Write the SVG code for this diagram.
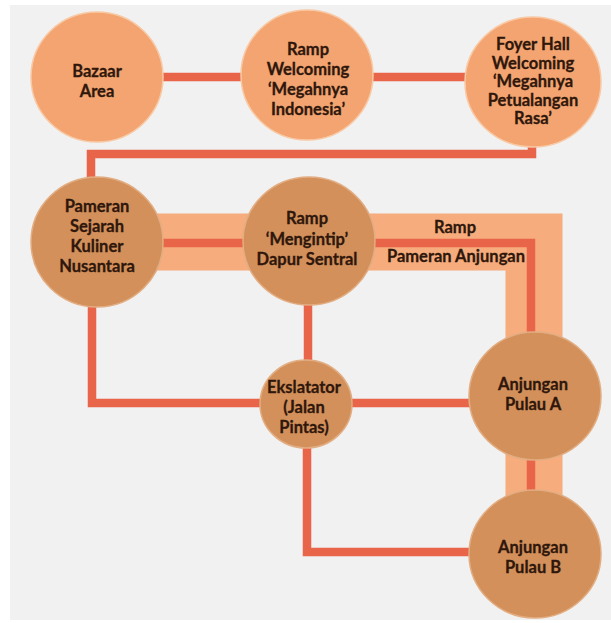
<svg xmlns="http://www.w3.org/2000/svg" width="611" height="623" viewBox="0 0 611 623">
<style>
.light{fill:#F3A470;stroke:#F8C9A4;stroke-width:1.5}
.dark{fill:#D3905B;stroke:#E2AD82;stroke-width:1.5}
.ln{fill:none;stroke:#E9654A;stroke-width:8.5;stroke-linejoin:miter;stroke-linecap:butt}
.band{fill:none;stroke:#F6AC7C;stroke-width:57;stroke-linejoin:miter}
text{font-family:Lato,"Noto Sans",sans-serif;font-weight:700;font-size:16.5px;fill:#2F170C;stroke:#2F170C;stroke-width:0.3;text-anchor:middle}
</style>
<rect width="611" height="623" fill="#ffffff"/>
<rect x="10" y="5" width="601" height="615" fill="#F1F1F1"/>
<g id="connectors">
<path class="band" d="M97,242 H534 V554"/>
<path class="ln" d="M160,77 H245"/>
<path class="ln" d="M372,77 H468"/>
<path class="ln" d="M532,140 V154 H91 V185"/>
<path class="ln" d="M97,243 H531 V554"/>
<path class="ln" d="M92,300 V403 H306"/>
<path class="ln" d="M308,300 V365"/>
<path class="ln" d="M306,403 H535"/>
<path class="ln" d="M307,440 V552 H535"/>
</g>
<g id="ramp-label">
<text x="455" y="233">Ramp</text>
<text x="456" y="262">Pameran Anjungan</text>
</g>
<g id="bazaar">
<ellipse class="light" cx="97" cy="77" rx="66" ry="65"/>
<text x="97" y="77">Bazaar</text>
<text x="97" y="97">Area</text>
</g>
<g id="ramp-welcoming">
<ellipse class="light" cx="307" cy="75" rx="66" ry="65"/>
<text x="308" y="55">Ramp</text>
<text x="308" y="75">Welcoming</text>
<text x="308" y="95">‘Megahnya</text>
<text x="308" y="115">Indonesia’</text>
</g>
<g id="foyer-hall">
<ellipse class="light" cx="533" cy="82" rx="68" ry="65"/>
<text x="533" y="50">Foyer Hall</text>
<text x="533" y="68.5">Welcoming</text>
<text x="533" y="87">‘Megahnya</text>
<text x="533" y="105.5">Petualangan</text>
<text x="533" y="124">Rasa’</text>
</g>
<g id="pameran-sejarah">
<ellipse class="dark" cx="97" cy="242" rx="66" ry="65"/>
<text x="97" y="212">Pameran</text>
<text x="97" y="232">Sejarah</text>
<text x="97" y="252">Kuliner</text>
<text x="97" y="272">Nusantara</text>
</g>
<g id="ramp-mengintip">
<ellipse class="dark" cx="309" cy="241" rx="66" ry="64"/>
<text x="307" y="224">Ramp</text>
<text x="307" y="245">‘Mengintip’</text>
<text x="307" y="265">Dapur Sentral</text>
</g>
<g id="ekslatator">
<ellipse class="dark" cx="306" cy="404" rx="46" ry="44"/>
<text x="304" y="393">Ekslatator</text>
<text x="304" y="413">(Jalan</text>
<text x="304" y="433">Pintas)</text>
</g>
<g id="anjungan-a">
<ellipse class="dark" cx="535" cy="396" rx="66" ry="64"/>
<text x="533" y="390">Anjungan</text>
<text x="533" y="410">Pulau A</text>
</g>
<g id="anjungan-b">
<ellipse class="dark" cx="535" cy="554" rx="66" ry="64"/>
<text x="533" y="553">Anjungan</text>
<text x="533" y="573">Pulau B</text>
</g>
</svg>
